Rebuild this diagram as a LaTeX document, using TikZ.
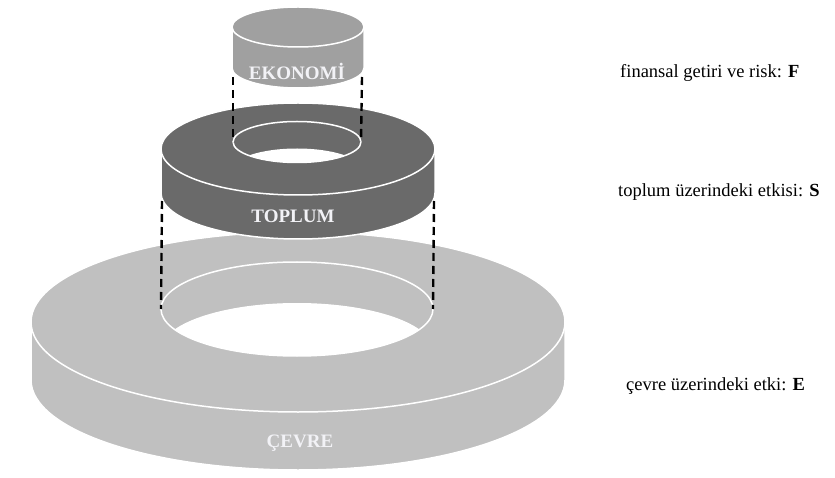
\documentclass[tikz,border=0pt]{standalone}
\usepackage{fontspec}
\setmainfont{Liberation Serif}
\definecolor{ekogray}{HTML}{A0A0A0}
\definecolor{toplumgray}{HTML}{6A6A6A}
\definecolor{cevregray}{HTML}{C0C0C0}
\definecolor{labelwhite}{HTML}{F2F2F6}
\begin{document}
\begin{tikzpicture}[x=1pt, y=-1pt,
  rim/.style = {draw=white, line width=1.5pt},
  guide/.style = {draw=black, line width=2.4pt, dash pattern=on 8pt off 5pt},
  ringlabel/.style = {anchor=base, text=labelwhite, font=\fontsize{19}{21}\selectfont\bfseries, inner sep=0pt},
  note/.style = {anchor=base west, font=\fontsize{18.5}{21}\selectfont, inner sep=0pt}]
  \useasboundingbox (0,0) rectangle (835,478);

  % cevre
  \fill[cevregray, rim] (31,322) -- (31,380) arc[start angle=180, end angle=0, x radius=267, y radius=90]
    -- (565,322) arc[start angle=0, end angle=-180, x radius=267, y radius=90] -- cycle;
  \draw[rim] (31,322) arc[start angle=180, end angle=0, x radius=267, y radius=90];
  \begin{scope}
    \clip (297,309) ellipse[x radius=136, y radius=47];
    \fill[white] (297,350) ellipse[x radius=136, y radius=47];
  \end{scope}
  \draw[rim] (297,309) ellipse[x radius=136, y radius=47];

  % toplum
  \fill[toplumgray, rim] (161,149) -- (161,193) arc[start angle=180, end angle=0, x radius=137, y radius=46]
    -- (435,149) arc[start angle=0, end angle=-180, x radius=137, y radius=46] -- cycle;
  \draw[rim] (161,149) arc[start angle=180, end angle=0, x radius=137, y radius=46];
  \begin{scope}
    \clip (297,142) ellipse[x radius=64, y radius=20.5];
    \fill[white] (297,169) ellipse[x radius=64, y radius=20.5];
  \end{scope}
  \draw[rim] (297,142) ellipse[x radius=64, y radius=20.5];

  % ekonomi
  \fill[ekogray, rim] (232,27) -- (232,68) arc[start angle=180, end angle=0, x radius=66, y radius=20]
    -- (364,27) arc[start angle=0, end angle=-180, x radius=66, y radius=20] -- cycle;
  \draw[rim] (232,27) arc[start angle=180, end angle=0, x radius=66, y radius=20];

  % dashed guides
  \coordinate (ekoL) at (233,77);
  \coordinate (ekoR) at (362,77);
  \coordinate (holeTL) at (233,142);
  \coordinate (holeTR) at (361,142);
  \coordinate (toplumL) at (162,201);
  \coordinate (toplumR) at (434,201);
  \coordinate (holeCL) at (161,309);
  \coordinate (holeCR) at (433,309);
  \draw[guide] (ekoL) -- (holeTL);
  \draw[guide] (ekoR) -- (holeTR);
  \draw[guide] (toplumL) -- (holeCL);
  \draw[guide] (toplumR) -- (holeCR);

  % labels
  \node[ringlabel] (eko) at (297,80) {EKONOMİ};
  \node[ringlabel] (toplum) at (293,223) {TOPLUM};
  \node[ringlabel] (cevre) at (300,447) {ÇEVRE};

  \node[note] (noteF) at (620,78) {finansal getiri ve risk: \textbf{F}};
  \node[note] (noteS) at (618,197) {toplum üzerindeki etkisi: \textbf{S}};
  \node[note] (noteE) at (626,390) {çevre üzerindeki etki: \textbf{E}};
\end{tikzpicture}
\end{document}
